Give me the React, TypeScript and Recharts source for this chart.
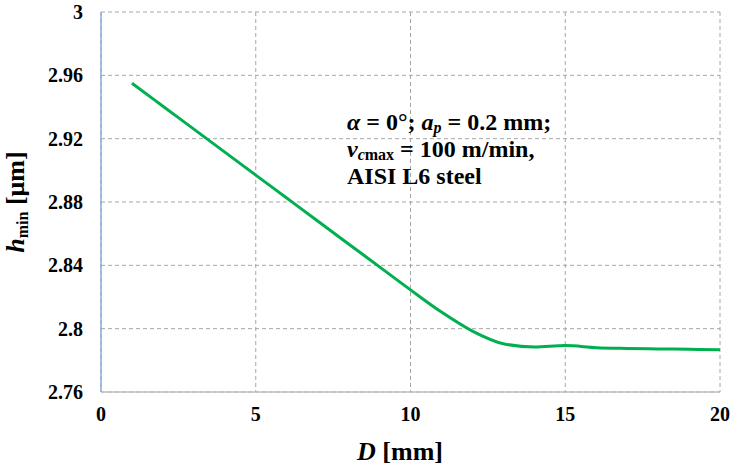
import React from 'react';
import { LineChart, Line, XAxis, YAxis, CartesianGrid } from 'recharts';

// D [mm] vs h_min [um]
const dValues = [1, 2, 3, 4, 5, 6, 7, 8, 9, 10, 11, 12, 13, 14, 15, 16, 17, 18, 19, 20];
const hMin = [
  2.955, 2.9405, 2.926, 2.9115, 2.897, 2.8825, 2.868, 2.8535, 2.839, 2.8245,
  2.8105, 2.7985, 2.7905, 2.7884, 2.7893, 2.788, 2.7875, 2.7872, 2.787, 2.7867,
];
const xTicks = [0, 5, 10, 15, 20];
const yTicks = [2.76, 2.8, 2.84, 2.88, 2.92, 2.96, 3];

const data = dValues.map((d, i) => ({ d, h: hMin[i] }));

const FONT = '"Liberation Serif", "Times New Roman", serif';
const tickStyle = { fontSize: 20, fontWeight: 700, fill: '#000', fontFamily: FONT };

function YTitle({ viewBox }: any) {
  const cx = 24;
  const cy = viewBox ? viewBox.y + viewBox.height / 2 : 202;
  return (
    <text
      x={cx}
      y={cy}
      transform={`rotate(-90 ${cx} ${cy})`}
      textAnchor="middle"
      fontFamily={FONT}
      fontWeight={700}
      fontSize={26}
      fill="#000"
    >
      <tspan fontStyle="italic">h</tspan>
      <tspan fontSize={16} dy={4}>min</tspan>
      <tspan dy={-4}> [μm]</tspan>
    </text>
  );
}

function XTitle() {
  return (
    <text x={400} y={460} textAnchor="middle" fontFamily={FONT} fontWeight={700} fontSize={26} fill="#000">
      <tspan fontStyle="italic">D</tspan>
      <tspan> [mm]</tspan>
    </text>
  );
}

const subStyle: React.CSSProperties = { fontSize: 16, lineHeight: 0, verticalAlign: '-0.2em' };

export default function App() {
  return (
    <div style={{ position: 'relative', width: 732, height: 467, background: '#fff' }}>
      <style>{'body{margin:0}'}</style>
      <LineChart width={732} height={467} data={data} margin={{ top: 12, right: 12, bottom: 0, left: 0 }}>
        <CartesianGrid stroke="#A6A6A6" strokeDasharray="4 3" />
        <XAxis
          dataKey="d"
          type="number"
          domain={[0, 20]}
          ticks={xTicks}
          height={75}
          tick={tickStyle}
          tickLine={false}
          tickSize={0}
          tickMargin={15}
          axisLine={{ stroke: '#BFBFBF', strokeWidth: 1.5 }}
          label={<XTitle />}
        />
        <YAxis
          type="number"
          domain={[2.76, 3]}
          ticks={yTicks}
          width={101}
          tick={tickStyle}
          tickLine={false}
          tickSize={0}
          tickMargin={18}
          tickFormatter={(v: number) => String(v)}
          axisLine={{ stroke: '#8EAADB', strokeWidth: 1.5 }}
          label={<YTitle />}
        />
        <Line
          type="monotone"
          dataKey="h"
          stroke="#00B050"
          strokeWidth={3}
          dot={false}
          isAnimationActive={false}
        />
      </LineChart>
      <div
        style={{
          position: 'absolute',
          left: 347,
          top: 109,
          fontFamily: FONT,
          fontWeight: 700,
          fontSize: 24,
          lineHeight: '27px',
          color: '#000',
          whiteSpace: 'nowrap',
        }}
      >
        <div>
          <i>α</i> = 0°; <i>a</i>
          <sub style={subStyle}><i>p</i></sub> = 0.2 mm;
        </div>
        <div>
          <i>v</i>
          <sub style={subStyle}><i>c</i>max</sub> = 100 m/min,
        </div>
        <div>AISI L6 steel</div>
      </div>
    </div>
  );
}
